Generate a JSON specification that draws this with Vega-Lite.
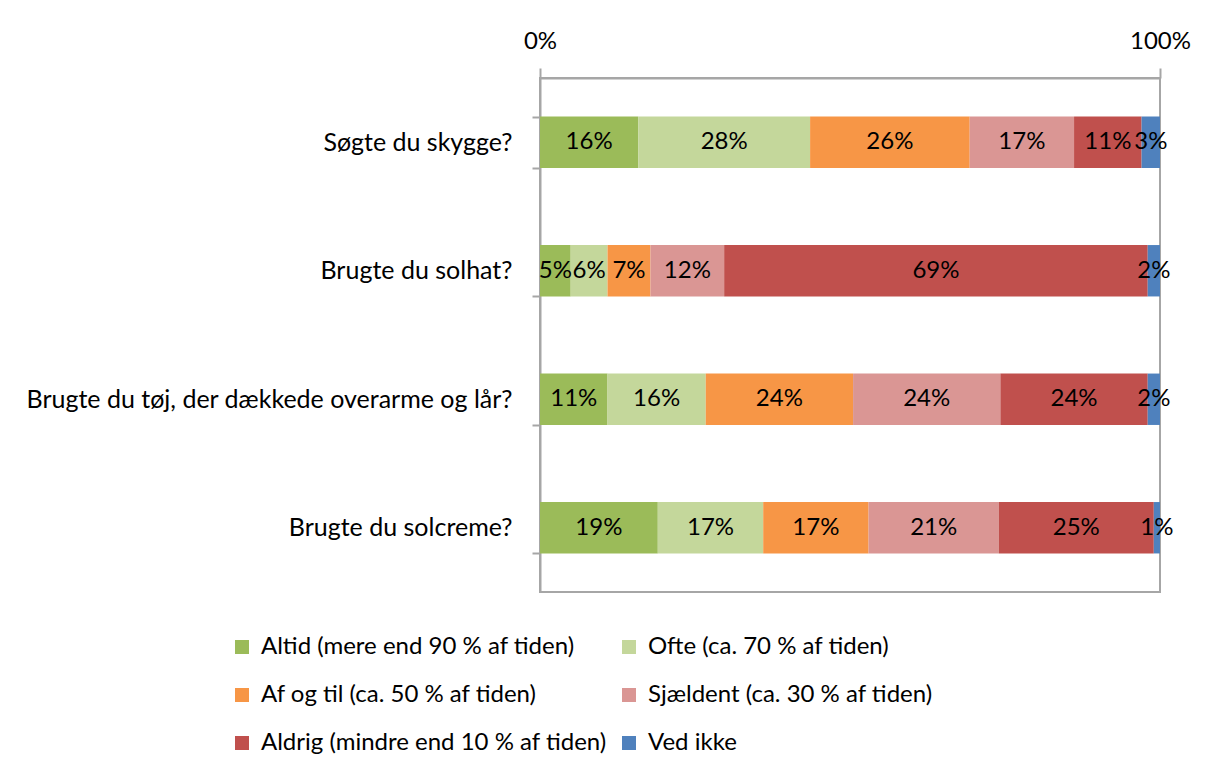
{
  "$schema": "https://vega.github.io/schema/vega-lite/v6.json",
  "width": 620,
  "height": 514,
  "autosize": {"type": "none"},
  "padding": {"left": 540, "top": 78, "right": 46, "bottom": 177},
  "config": {
    "font": "Lato",
    "view": {"stroke": "#a6a6a6", "strokeWidth": 2},
    "text": {"font": "Lato"}
  },
  "data": {
    "values": [
      {"q": "Søgte du skygge?", "cat": "Altid (mere end 90 % af tiden)", "v": 0.16},
      {"q": "Søgte du skygge?", "cat": "Ofte (ca. 70 % af tiden)", "v": 0.28},
      {"q": "Søgte du skygge?", "cat": "Af og til (ca. 50 % af tiden)", "v": 0.26},
      {"q": "Søgte du skygge?", "cat": "Sjældent (ca. 30 % af tiden)", "v": 0.17},
      {"q": "Søgte du skygge?", "cat": "Aldrig (mindre end 10 % af tiden)", "v": 0.11},
      {"q": "Søgte du skygge?", "cat": "Ved ikke", "v": 0.03},
      {"q": "Brugte du solhat?", "cat": "Altid (mere end 90 % af tiden)", "v": 0.05},
      {"q": "Brugte du solhat?", "cat": "Ofte (ca. 70 % af tiden)", "v": 0.06},
      {"q": "Brugte du solhat?", "cat": "Af og til (ca. 50 % af tiden)", "v": 0.07},
      {"q": "Brugte du solhat?", "cat": "Sjældent (ca. 30 % af tiden)", "v": 0.12},
      {"q": "Brugte du solhat?", "cat": "Aldrig (mindre end 10 % af tiden)", "v": 0.69},
      {"q": "Brugte du solhat?", "cat": "Ved ikke", "v": 0.02},
      {"q": "Brugte du tøj, der dækkede overarme og lår?", "cat": "Altid (mere end 90 % af tiden)", "v": 0.11},
      {"q": "Brugte du tøj, der dækkede overarme og lår?", "cat": "Ofte (ca. 70 % af tiden)", "v": 0.16},
      {"q": "Brugte du tøj, der dækkede overarme og lår?", "cat": "Af og til (ca. 50 % af tiden)", "v": 0.24},
      {"q": "Brugte du tøj, der dækkede overarme og lår?", "cat": "Sjældent (ca. 30 % af tiden)", "v": 0.24},
      {"q": "Brugte du tøj, der dækkede overarme og lår?", "cat": "Aldrig (mindre end 10 % af tiden)", "v": 0.24},
      {"q": "Brugte du tøj, der dækkede overarme og lår?", "cat": "Ved ikke", "v": 0.02},
      {"q": "Brugte du solcreme?", "cat": "Altid (mere end 90 % af tiden)", "v": 0.19},
      {"q": "Brugte du solcreme?", "cat": "Ofte (ca. 70 % af tiden)", "v": 0.17},
      {"q": "Brugte du solcreme?", "cat": "Af og til (ca. 50 % af tiden)", "v": 0.17},
      {"q": "Brugte du solcreme?", "cat": "Sjældent (ca. 30 % af tiden)", "v": 0.21},
      {"q": "Brugte du solcreme?", "cat": "Aldrig (mindre end 10 % af tiden)", "v": 0.25},
      {"q": "Brugte du solcreme?", "cat": "Ved ikke", "v": 0.01}
    ]
  },
  "transform": [
    {"window": [{"op": "row_number", "as": "rank"}], "groupby": ["q"]}
  ],
  "encoding": {
    "y": {
      "field": "q",
      "type": "nominal",
      "sort": ["Søgte du skygge?", "Brugte du solhat?", "Brugte du tøj, der dækkede overarme og lår?", "Brugte du solcreme?"],
      "scale": {"paddingInner": 0.6, "paddingOuter": 0.3},
      "axis": {
        "title": null,
        "orient": "left",
        "tickBand": "extent",
        "tickSize": 8,
        "tickWidth": 2,
        "tickColor": "#a6a6a6",
        "domainColor": "#a6a6a6",
        "domainWidth": 2,
        "labelPadding": 20,
        "labelFontSize": 25,
        "labelColor": "#000000",
        "labelLimit": 700,
        "labelFont": "Lato"
      }
    },
    "order": {"field": "rank", "type": "quantitative"}
  },
  "layer": [
    {
      "mark": {"type": "bar"},
      "encoding": {
        "x": {
          "field": "v",
          "type": "quantitative",
          "stack": "normalize",
          "scale": {"domain": [0, 1], "nice": false},
          "axis": {
            "title": null,
            "orient": "top",
            "values": [0, 1],
            "format": ".0%",
            "grid": false,
            "labelFlush": false,
            "tickSize": 10,
            "tickWidth": 2,
            "tickColor": "#a6a6a6",
            "domainColor": "#a6a6a6",
            "domainWidth": 2,
            "labelPadding": 15,
            "labelFontSize": 24,
            "labelColor": "#000000",
            "labelFont": "Lato"
          }
        },
        "color": {
          "field": "cat",
          "type": "nominal",
          "sort": ["Altid (mere end 90 % af tiden)", "Ofte (ca. 70 % af tiden)", "Af og til (ca. 50 % af tiden)", "Sjældent (ca. 30 % af tiden)", "Aldrig (mindre end 10 % af tiden)", "Ved ikke"],
          "scale": {
            "domain": ["Altid (mere end 90 % af tiden)", "Ofte (ca. 70 % af tiden)", "Af og til (ca. 50 % af tiden)", "Sjældent (ca. 30 % af tiden)", "Aldrig (mindre end 10 % af tiden)", "Ved ikke"],
            "range": ["#9BBB59", "#C4D79B", "#F79646", "#DA9694", "#C0504D", "#4F81BD"]
          },
          "legend": {
            "title": null,
            "orient": "none",
            "legendX": -310,
            "legendY": 557,
            "columns": 2,
            "direction": "horizontal",
            "symbolType": "square",
            "symbolSize": 196,
            "symbolStrokeWidth": 0,
            "labelFontSize": 24,
            "labelColor": "#000000",
            "labelFont": "Lato",
            "labelOffset": 7,
            "labelLimit": 600,
            "rowPadding": 24,
            "columnPadding": 10
          }
        }
      }
    },
    {
      "mark": {"type": "text", "fontSize": 24, "font": "Lato", "color": "#000000"},
      "encoding": {
        "x": {"field": "v", "type": "quantitative", "stack": "normalize", "bandPosition": 0.5},
        "text": {"field": "v", "type": "quantitative", "format": ".0%"}
      }
    }
  ]
}
